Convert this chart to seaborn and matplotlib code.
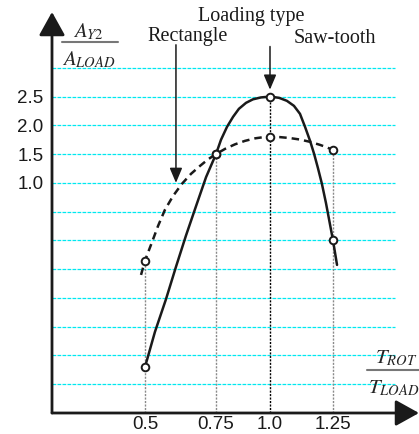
import matplotlib
matplotlib.use('Agg')
import matplotlib.pyplot as plt
import numpy as np
import pandas as pd
import seaborn as sns

# marked points: T_ROT/T_LOAD against A_Y2/A_LOAD
load_ratio = [0.5, 0.75, 1.0, 1.25]
saw_tooth_amp = [-2.2, 1.5, 2.5, 0.0]
rectangle_amp = [-0.35, 1.5, 1.8, 1.57]

# the drawn curves
saw_curve_x = [0.5, 0.535, 0.574, 0.609, 0.644, 0.680, 0.715, 0.75, 0.773,
               0.801, 0.829, 0.856, 0.889, 0.921, 0.958, 1.0, 1.036, 1.067,
               1.095, 1.119, 1.139, 1.159, 1.175, 1.190, 1.206, 1.222, 1.234,
               1.25, 1.266]
saw_curve_y = [-2.2, -1.59, -1.02, -0.46, 0.08, 0.60, 1.10, 1.5, 1.748,
               1.974, 2.148, 2.287, 2.391, 2.452, 2.485, 2.5, 2.478, 2.426,
               2.339, 2.20, 1.974, 1.730, 1.504, 1.261, 0.983, 0.652, 0.374,
               0.0, -0.426]
rect_curve_x = [0.486, 0.5, 0.525, 0.546, 0.570, 0.599, 0.630, 0.662, 0.694,
                0.722, 0.75, 0.792, 0.838, 0.884, 0.931, 0.963, 1.0, 1.040,
                1.079, 1.119, 1.159, 1.198, 1.226, 1.25, 1.270]
rect_curve_y = [-0.60, -0.35, -0.026, 0.252, 0.530, 0.774, 0.983, 1.157, 1.296,
                1.409, 1.5, 1.591, 1.670, 1.730, 1.774, 1.791, 1.8, 1.795,
                1.779, 1.753, 1.713, 1.661, 1.617, 1.57, 1.522]

y_ticks = [1.0, 1.5, 2.0, 2.5]
y_tick_labels = ['1.0', '1.5', '2.0', '2.5']
x_tick_labels = ['0.5', '0.75', '1.0', '1.25']
grid_levels = [-2.5, -2.0, -1.5, -1.0, -0.5, 0.0, 0.5, 1.0, 1.5, 2.0, 2.5, 3.0]

W, H = 419, 434

sns.set_style('white')
plt.rcParams['font.family'] = ['Liberation Sans', 'DejaVu Sans']
plt.rcParams['mathtext.fontset'] = 'stix'

# the sketch's x axis is not evenly spaced, so use a piecewise scale
x_knots = [0.0, 0.5, 0.75, 1.0, 1.25, 2.0]
px_knots = [3, 145, 216, 270, 333, 522]
fwd = lambda v: np.interp(v, x_knots, px_knots)
inv = lambda p: np.interp(p, px_knots, x_knots)

fig = plt.figure(figsize=(W / 100, H / 100), dpi=100)
ax = fig.add_axes([52 / W, (H - 413) / H, (419 - 52) / W, (413 - 12) / H])
ax.set_xscale('function', functions=(fwd, inv))
ax.set_xlim(inv(52), inv(419))
ax.set_ylim(-3.0, 3.97)
for s in ax.spines.values():
    s.set_visible(False)

for lv in grid_levels:
    ax.axhline(lv, xmin=0, xmax=0.935, color='#00e8f0', lw=0.9,
               ls=(0, (3, 1)), zorder=1)

# dotted drop lines from the markers
tops = np.maximum(saw_tooth_amp, rectangle_amp)
for xv, top in zip(load_ratio, tops):
    c = 'black' if xv == 1.0 else '#8a8a8a'
    ax.vlines(xv, -3.0, top, colors=c, lw=1.0, linestyles=(0, (1.5, 1)), zorder=2)

saw = pd.DataFrame({'x': saw_curve_x, 'y': saw_curve_y})
rect = pd.DataFrame({'x': rect_curve_x, 'y': rect_curve_y})
sns.lineplot(data=saw, x='x', y='y', ax=ax, color='#1a1a1a', lw=1.8,
             sort=False, estimator=None, zorder=3)
sns.lineplot(data=rect, x='x', y='y', ax=ax, color='#1a1a1a', lw=1.8,
             sort=False, estimator=None, linestyle=(0, (3, 2)), zorder=3)

pts = pd.DataFrame({'x': load_ratio * 2, 'y': saw_tooth_amp + rectangle_amp})
sns.scatterplot(data=pts, x='x', y='y', ax=ax, s=30, color='white',
                edgecolor='#1a1a1a', linewidth=1.4, zorder=5)

ax.set_xticks(load_ratio)
ax.set_xticklabels(x_tick_labels)
ax.set_yticks(y_ticks)
ax.set_yticklabels(y_tick_labels)
ax.tick_params(axis='both', length=0, labelsize=13.5, colors='#1a1a1a')
ax.tick_params(axis='y', pad=6)
ax.tick_params(axis='x', pad=2)
ax.set_xlabel('')
ax.set_ylabel('')

# axis arrows
big = dict(arrowstyle='-|>,head_length=0.72,head_width=0.4', mutation_scale=20,
           color='#1a1a1a', lw=2, shrinkA=0, shrinkB=0)
ax.annotate('', xy=(0, 1), xytext=(0, 0), xycoords='axes fraction',
            arrowprops=big, annotation_clip=False)
ax.annotate('', xy=(1, 0), xytext=(0, 0), xycoords='axes fraction',
            arrowprops=big, annotation_clip=False)

small = dict(arrowstyle='-|>,head_length=0.9,head_width=0.38', mutation_scale=10,
             color='#1a1a1a', lw=1.1, shrinkA=0, shrinkB=0)
ax.annotate('', xy=(1.0, 2.62), xytext=(1.0, 3.37), arrowprops=small,
            annotation_clip=False)
ax.annotate('', xy=(0.609, 1.0), xytext=(0.609, 3.40), arrowprops=small,
            annotation_clip=False)

serif = ['Liberation Serif', 'DejaVu Serif']
fig.text(251 / W, 1 - 21 / H, 'Loading type', family=serif, fontsize=14.5,
         ha='center', va='baseline', color='#1a1a1a')
fig.text(188 / W, 1 - 41 / H, 'Rectangle', family=serif, fontsize=14.5,
         ha='center', va='baseline', color='#1a1a1a')
fig.text(335 / W, 1 - 43 / H, 'Saw-tooth', family=serif, fontsize=14.5,
         ha='center', va='baseline', color='#1a1a1a')

# fraction labels
fig.text(88 / W, 1 - 37 / H, r'$A_{Y2}$', fontsize=15, ha='center', va='baseline')
fig.add_artist(plt.Line2D([62 / W, 118 / W], [1 - 42 / H] * 2, color='#777777', lw=1.5))
fig.text(89 / W, 1 - 65 / H, r'$A_{LOAD}$', fontsize=15, ha='center', va='baseline')

fig.text(396 / W, 1 - 363 / H, r'$T_{ROT}$', fontsize=15, ha='center', va='baseline')
fig.add_artist(plt.Line2D([367 / W, 419 / W], [1 - 370 / H] * 2, color='#777777', lw=1.5))
fig.text(394 / W, 1 - 393 / H, r'$T_{LOAD}$', fontsize=15, ha='center', va='baseline')

fig.savefig('out.png', dpi=100)
